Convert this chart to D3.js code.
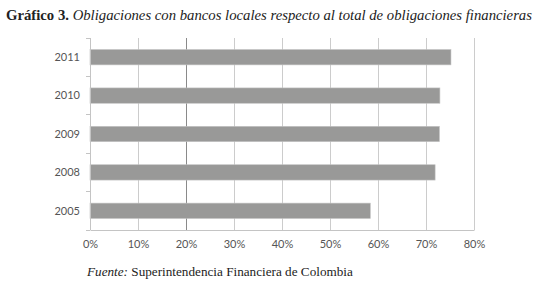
<!DOCTYPE html>
<html>
<head>
<meta charset="utf-8">
<script src="https://cdn.jsdelivr.net/npm/d3@7"></script>
<style>
    body { margin: 0; background: #fff; }
    svg { display: block; }
</style>
</head>
<body>
<svg class="chart"></svg>
<script>
// data
const years = ["2011", "2010", "2009", "2008", "2005"];
const shares = [75.2, 72.9, 72.8, 71.9, 58.4];
const xTicks = [0, 10, 20, 30, 40, 50, 60, 70, 80];

const W = 536, H = 284;
const margin = {top: 38, right: 62, bottom: 54, left: 90};
const width = W - margin.left - margin.right,
      height = H - margin.top - margin.bottom;

const root = d3.select(".chart").attr("width", W).attr("height", H);

// shrink a text until it fits the given width
function fitText(sel, maxW, size) {
    sel.style("font-size", size + "px");
    const w = sel.node().getComputedTextLength();
    if (w > maxW) sel.style("font-size", (size * maxW / w).toFixed(2) + "px");
}

// title
const title = root.append("text")
    .attr("x", 6)
    .attr("y", 20)
    .style("font-family", "'Liberation Serif', serif")
    .style("fill", "#222");
title.append("tspan").attr("font-weight", "bold").text("Gráfico 3. ");
title.append("tspan").attr("font-style", "italic")
    .text("Obligaciones con bancos locales respecto al total de obligaciones financieras");
fitText(title, 526, 15);

const svg = root.append("g")
    .attr("transform", `translate(${margin.left},${margin.top})`);

const x = d3.scaleLinear().domain([0, 80]).range([0, width]);
const y = d3.scaleBand().domain(years).range([0, height]).paddingInner(0.6).paddingOuter(0.3);

// gridlines
svg.append("g")
    .selectAll("line")
    .data(xTicks.slice(1))
    .enter().append("line")
    .attr("x1", d => x(d)).attr("x2", d => x(d))
    .attr("y1", 0).attr("y2", height)
    .attr("stroke", d => d === 20 ? "#8a8a8a" : "#cccccc")
    .attr("stroke-width", 1)
    .attr("shape-rendering", "crispEdges");

// bars
svg.selectAll(".bar")
    .data(years)
    .enter().append("rect")
    .attr("class", "bar")
    .attr("x", x(0))
    .attr("y", d => y(d))
    .attr("width", (d, i) => x(shares[i]) - x(0))
    .attr("height", y.bandwidth())
    .attr("fill", "#999998")
    .attr("stroke", "#c4c4c4")
    .attr("stroke-width", 0.6);

// x axis
const xAxis = svg.append("g")
    .attr("transform", `translate(0,${height})`)
    .call(d3.axisBottom(x).tickValues(xTicks).tickFormat(d => d + "%").tickSize(0).tickPadding(10));
xAxis.select(".domain").attr("stroke", "#c4c4c4");

// y axis with boundary ticks
const yAxis = svg.append("g");
yAxis.append("line")
    .attr("x1", 0).attr("x2", 0).attr("y1", 0).attr("y2", height)
    .attr("stroke", "#c4c4c4")
    .attr("shape-rendering", "crispEdges");
yAxis.selectAll(".bnd")
    .data(d3.range(years.length + 1))
    .enter().append("line")
    .attr("x1", -4).attr("x2", 0)
    .attr("y1", i => i * height / years.length)
    .attr("y2", i => i * height / years.length)
    .attr("stroke", "#c4c4c4")
    .attr("shape-rendering", "crispEdges");
yAxis.selectAll(".lbl")
    .data(years)
    .enter().append("text")
    .attr("x", -10)
    .attr("y", d => y(d) + y.bandwidth() / 2)
    .attr("dy", "0.35em")
    .attr("text-anchor", "end")
    .text(d => d);

svg.selectAll("text")
    .style("font-family", "Lato, 'Open Sans', sans-serif")
    .style("font-size", "11px")
    .style("fill", "#555");

// source
const src = root.append("text")
    .attr("x", 87)
    .attr("y", 276)
    .style("font-family", "'Liberation Serif', serif")
    .style("fill", "#222");
src.append("tspan").attr("font-style", "italic").text("Fuente: ");
src.append("tspan").text("Superintendencia Financiera de Colombia");
fitText(src, 266, 13.2);
</script>
</body>
</html>
